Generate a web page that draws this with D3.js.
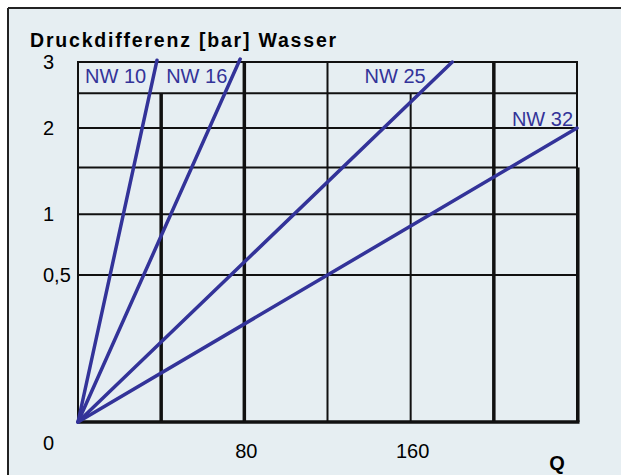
<!DOCTYPE html>
<html>
<head>
<meta charset="utf-8">
<script src="https://d3js.org/d3.v7.min.js"></script>
<style>
  body { margin: 0; background: #fff; }
  text { font-family: "Liberation Sans", Arial, sans-serif; }
</style>
</head>
<body>
<div id="chart"></div>
<script>
// data
var seriesNames = ["NW 10", "NW 16", "NW 25", "NW 32"];
var seriesEndQ = [38, 78, 180, 240];
var seriesEndDp = [3.03, 3.05, 3.0, 2.0];

var yLabelValues = [0, 0.5, 1, 2, 3];
var yLabelTexts = ["0", "0,5", "1", "2", "3"];
var yGridValues = [0.5, 1, 1.5, 2, 2.5, 3];

var xLabelValues = [80, 160];
var xGridValues = [0, 40, 80, 120, 160, 200, 240];
var xThickValues = [40, 80, 200];

var W = 621, H = 475;
var plot = {left: 78, right: 577, top: 62, bottom: 422};
var bg = "#e6eef2";
var blue = "#333399";

var svg = d3.select("#chart").append("svg")
  .attr("width", W)
  .attr("height", H);

// panel background + frame (top and left only)
svg.append("rect")
  .attr("x", 8).attr("y", 8)
  .attr("width", W - 8).attr("height", H - 8)
  .attr("fill", bg);
svg.append("line")
  .attr("x1", 8).attr("y1", 8).attr("x2", W).attr("y2", 8)
  .attr("stroke", "#222").attr("stroke-width", 2);
svg.append("line")
  .attr("x1", 8).attr("y1", 8).attr("x2", 8).attr("y2", H)
  .attr("stroke", "#222").attr("stroke-width", 2);

// scales: pressure drop grows with Q^2, so a sqrt y axis keeps the curves straight
var x = d3.scaleLinear().domain([0, 240]).range([plot.left, plot.right]);
var y = d3.scaleSqrt().domain([0, 3]).range([plot.bottom, plot.top]);

var g = svg.append("g");

// horizontal grid
g.selectAll(".hgrid")
  .data(yGridValues)
  .enter()
  .append("line")
  .attr("class", "hgrid")
  .attr("x1", x(0)).attr("x2", x(240))
  .attr("y1", function(d) { return y(d); })
  .attr("y2", function(d) { return y(d); })
  .attr("stroke", "#111")
  .attr("stroke-width", 2);

// vertical grid (40 and 160 are hidden behind the label row)
g.selectAll(".vgrid")
  .data(xGridValues)
  .enter()
  .append("line")
  .attr("class", "vgrid")
  .attr("x1", function(d) { return x(d); })
  .attr("x2", function(d) { return x(d); })
  .attr("y1", function(d) { return (d == 40 || d == 160) ? y(2.5) : y(3) - 1; })
  .attr("y2", y(0))
  .attr("stroke", "#111")
  .attr("stroke-width", function(d) { return xThickValues.indexOf(d) >= 0 ? 3.5 : 2; });

// right border gets heavier below 1.5 bar
g.append("line")
  .attr("x1", x(240) + 0.8).attr("x2", x(240) + 0.8)
  .attr("y1", y(1.5)).attr("y2", y(0))
  .attr("stroke", "#111").attr("stroke-width", 3.5);

// bottom axis line
g.append("line")
  .attr("x1", x(0)).attr("x2", x(240) + 2.5)
  .attr("y1", y(0)).attr("y2", y(0))
  .attr("stroke", "#111").attr("stroke-width", 3.5);

// series lines
var line = d3.line()
  .x(function(d) { return x(d[0]); })
  .y(function(d) { return y(d[1]); });

var seriesData = seriesNames.map(function(n, i) {
  return {name: n, pts: [[0, 0], [seriesEndQ[i], seriesEndDp[i]]]};
});

g.selectAll(".series")
  .data(seriesData)
  .enter()
  .append("path")
  .attr("class", "series")
  .attr("d", function(d) { return line(d.pts); })
  .attr("fill", "none")
  .attr("stroke", blue)
  .attr("stroke-width", 3.5)
  .attr("stroke-linecap", "round");

// series labels
var labelX = [x(0) + 7, x(40) + 5, x(160) + 15, x(240) - 4];
var labelY = [y(3) + 21, y(3) + 21, y(3) + 21, y(2) - 2];
var labelAnchor = ["start", "start", "end", "end"];
g.selectAll(".slabel")
  .data(seriesNames)
  .enter()
  .append("text")
  .attr("class", "slabel")
  .attr("x", function(d, i) { return labelX[i]; })
  .attr("y", function(d, i) { return labelY[i]; })
  .attr("text-anchor", function(d, i) { return labelAnchor[i]; })
  .attr("fill", blue)
  .style("font-size", "20px")
  .text(function(d) { return d; });

// y labels
g.selectAll(".ylabel")
  .data(yLabelValues)
  .enter()
  .append("text")
  .attr("class", "ylabel")
  .attr("x", 43)
  .attr("y", function(d) { return d == 0 ? y(d) + 28 : y(d) + 7; })
  .attr("fill", "#000")
  .style("font-size", "20px")
  .text(function(d, i) { return yLabelTexts[i]; });

// x labels
g.selectAll(".xlabel")
  .data(xLabelValues)
  .enter()
  .append("text")
  .attr("class", "xlabel")
  .attr("x", function(d) { return x(d) + 2; })
  .attr("y", y(0) + 36)
  .attr("text-anchor", "middle")
  .attr("fill", "#000")
  .style("font-size", "20px")
  .text(function(d) { return d; });

// axis titles
svg.append("text")
  .attr("x", 30).attr("y", 47)
  .attr("fill", "#000")
  .style("font-size", "19.5px")
  .style("font-weight", "bold")
  .style("letter-spacing", "1.8px")
  .text("Druckdifferenz [bar] Wasser");

svg.append("text")
  .attr("x", 557).attr("y", 470)
  .attr("text-anchor", "middle")
  .attr("fill", "#000")
  .style("font-size", "20px")
  .style("font-weight", "bold")
  .text("Q");
</script>
</body>
</html>
